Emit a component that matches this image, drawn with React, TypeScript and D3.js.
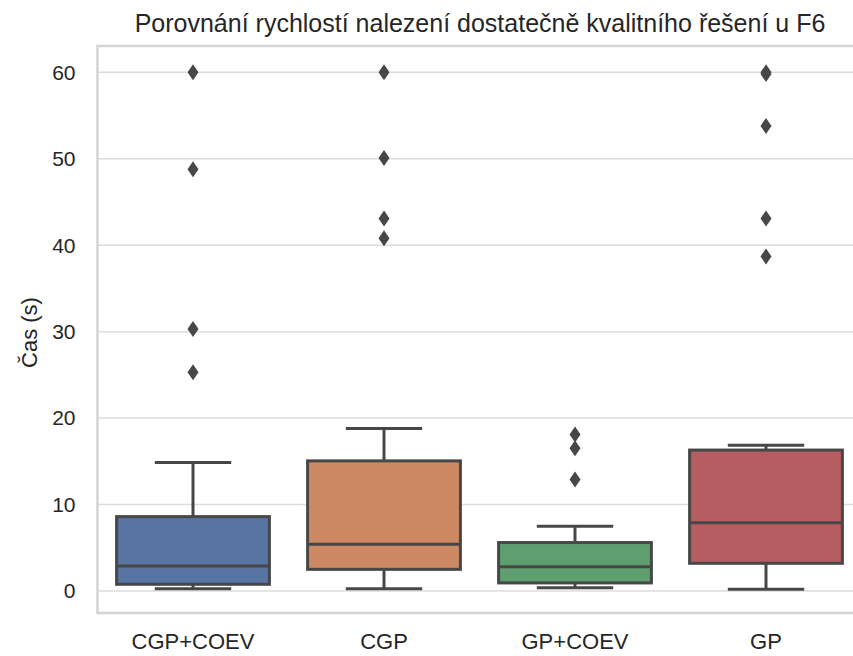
import React, { useEffect, useRef } from "react";
import * as d3 from "d3";

// box statistics (seconds)
const categories = ["CGP+COEV", "CGP", "GP+COEV", "GP"];
const colors = ["#5875a4", "#cc8963", "#5f9e6e", "#b55d60"];
const q1 = [0.77, 2.5, 0.93, 3.2];
const medians = [2.9, 5.4, 2.8, 7.9];
const q3 = [8.6, 15.05, 5.6, 16.3];
const whiskerLow = [0.27, 0.27, 0.38, 0.2];
const whiskerHigh = [14.85, 18.8, 7.5, 16.85];
const outliers = [
  [60, 48.8, 30.3, 25.3],
  [60, 50.1, 43.1, 40.8],
  [18.1, 16.5, 12.9],
  [60, 59.8, 53.8, 43.1, 38.7],
];
const yTicks = [0, 10, 20, 30, 40, 50, 60];

const App = () => {
  const chartRef = useRef<SVGSVGElement>(null);

  useEffect(() => {
    const width = 853;
    const height = 656;
    const margin = { top: 46, right: -8.5, bottom: 43, left: 97.5 };
    const font = "'Liberation Sans', Arial, sans-serif";
    const lineColor = "#474747";

    const svg = d3.select(chartRef.current);
    svg.selectAll("*").remove();

    const x = d3
      .scaleBand()
      .domain(categories)
      .range([margin.left, width - margin.right])
      .padding(0);

    const y = d3
      .scaleLinear()
      .domain([-2.55, 63.05])
      .range([height - margin.bottom, margin.top]);

    // grid
    svg
      .selectAll(".grid")
      .data(yTicks)
      .enter()
      .append("line")
      .attr("x1", margin.left)
      .attr("x2", width - margin.right)
      .attr("y1", (d) => y(d))
      .attr("y2", (d) => y(d))
      .attr("stroke", "#dcdcdc")
      .attr("stroke-width", 1.5);

    // frame
    svg
      .append("rect")
      .attr("x", margin.left)
      .attr("y", margin.top)
      .attr("width", width - margin.right - margin.left)
      .attr("height", height - margin.bottom - margin.top)
      .attr("fill", "none")
      .attr("stroke", "#d4d4d4")
      .attr("stroke-width", 2.5);

    const bw = x.bandwidth() * 0.8;

    categories.forEach((c, i) => {
      const cx = x(c)! + x.bandwidth() / 2;
      const g = svg.append("g");

      // whiskers
      g.append("line")
        .attr("x1", cx).attr("x2", cx)
        .attr("y1", y(q3[i])).attr("y2", y(whiskerHigh[i]))
        .attr("stroke", lineColor).attr("stroke-width", 3);
      g.append("line")
        .attr("x1", cx).attr("x2", cx)
        .attr("y1", y(q1[i])).attr("y2", y(whiskerLow[i]))
        .attr("stroke", lineColor).attr("stroke-width", 3);
      [whiskerLow[i], whiskerHigh[i]].forEach((v) => {
        g.append("line")
          .attr("x1", cx - bw / 4).attr("x2", cx + bw / 4)
          .attr("y1", y(v)).attr("y2", y(v))
          .attr("stroke", lineColor).attr("stroke-width", 3);
      });

      // box
      g.append("rect")
        .attr("x", cx - bw / 2)
        .attr("y", y(q3[i]))
        .attr("width", bw)
        .attr("height", y(q1[i]) - y(q3[i]))
        .attr("fill", colors[i])
        .attr("stroke", lineColor)
        .attr("stroke-width", 3);

      g.append("line")
        .attr("x1", cx - bw / 2).attr("x2", cx + bw / 2)
        .attr("y1", y(medians[i])).attr("y2", y(medians[i]))
        .attr("stroke", lineColor).attr("stroke-width", 3);

      // fliers (thin diamonds)
      g.selectAll(".flier")
        .data(outliers[i])
        .enter()
        .append("path")
        .attr("d", (v) => {
          const py = y(v);
          return `M${cx},${py - 8} L${cx + 5.5},${py} L${cx},${py + 8} L${cx - 5.5},${py} Z`;
        })
        .attr("fill", lineColor);

      // x labels
      svg
        .append("text")
        .attr("x", cx)
        .attr("y", 649)
        .attr("text-anchor", "middle")
        .style("font-family", font)
        .style("font-size", "22px")
        .attr("fill", "#262626")
        .text(c);
    });

    // y tick labels
    svg
      .selectAll(".ytick")
      .data(yTicks)
      .enter()
      .append("text")
      .attr("x", 75.5)
      .attr("y", (d) => y(d))
      .attr("dy", "0.35em")
      .attr("text-anchor", "end")
      .style("font-family", font)
      .style("font-size", "21px")
      .attr("fill", "#262626")
      .text((d) => d);

    svg
      .append("text")
      .attr("transform", `translate(37, ${(margin.top + height - margin.bottom) / 2 + 3}) rotate(-90)`)
      .attr("text-anchor", "middle")
      .style("font-family", font)
      .style("font-size", "22px")
      .attr("fill", "#262626")
      .text("Čas (s)");

    svg
      .append("text")
      .attr("x", 480)
      .attr("y", 32)
      .attr("text-anchor", "middle")
      .style("font-family", font)
      .style("font-size", "25px")
      .attr("fill", "#262626")
      .text("Porovnání rychlostí nalezení dostatečně kvalitního řešení u F6");
  }, []);

  return (
    <svg
      ref={chartRef}
      width={853}
      height={656}
      style={{ position: "absolute", left: 0, top: 0, background: "#fff" }}
    />
  );
};

export default App;
